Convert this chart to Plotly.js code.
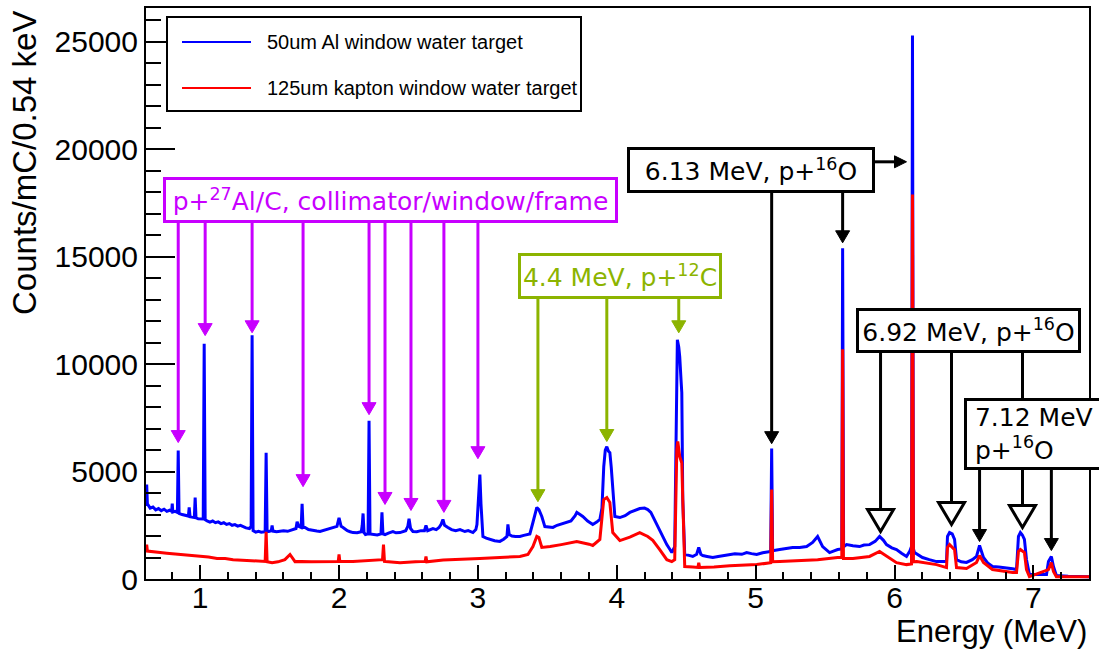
<!DOCTYPE html>
<html><head><meta charset="utf-8">
<script src="https://cdn.plot.ly/plotly-3.0.1.min.js"></script>
<style>html,body{margin:0;padding:0;background:#fff;}#chart{width:1099px;height:649px;}</style>
</head><body><div id="chart"></div>
<script>
// ---------- data ----------
const seriesNames = ["50um Al window water target", "125um kapton window water target"];

const blueE = [
0.612,0.615,0.620,0.64,0.66,0.68,0.70,0.72,0.74,0.76,
0.78,0.795,0.799,0.803,0.82,0.836,0.842,0.848,0.87,0.89,
0.905,0.915,0.921,0.927,0.94,0.958,0.964,0.970,0.986,1.022,
1.029,1.036,1.05,1.07,1.09,1.11,1.13,1.15,1.17,1.19,
1.21,1.23,1.25,1.27,1.29,1.31,1.33,1.355,1.367,1.374,
1.381,1.40,1.42,1.44,1.468,1.475,1.482,1.50,1.512,1.518,
1.524,1.55,1.576,1.60,1.63,1.669,1.69,1.698,1.71,1.727,
1.734,1.741,1.755,1.78,1.81,1.84,1.863,1.89,1.92,1.957,
1.985,2.0,2.015,2.029,2.06,2.08,2.101,2.13,2.16,2.167,
2.173,2.18,2.19,2.209,2.216,2.223,2.245,2.275,2.302,2.309,
2.316,2.331,2.36,2.388,2.41,2.439,2.48,2.495,2.504,2.515,
2.532,2.56,2.59,2.615,2.626,2.638,2.676,2.70,2.72,2.735,
2.748,2.76,2.784,2.81,2.84,2.871,2.906,2.93,2.964,2.985,
2.993,3.007,3.014,3.022,3.036,3.06,3.086,3.12,3.158,3.185,
3.209,3.216,3.225,3.245,3.27,3.302,3.33,3.36,3.374,3.396,
3.415,3.424,3.439,3.46,3.482,3.51,3.54,3.57,3.60,3.64,
3.67,3.70,3.712,3.735,3.755,3.79,3.827,3.855,3.878,3.893,
3.906,3.917,3.928,3.940,3.950,3.960,3.971,3.986,4.022,4.06,
4.094,4.13,4.165,4.20,4.223,4.245,4.259,4.285,4.309,4.335,
4.360,4.385,4.396,4.417,4.428,4.436,4.446,4.453,4.463,4.468,
4.475,4.489,4.52,4.547,4.575,4.590,4.605,4.619,4.65,4.691,
4.73,4.77,4.813,4.85,4.90,4.935,4.97,5.007,5.05,5.09,
5.108,5.115,5.122,5.173,5.22,5.266,5.317,5.367,5.410,5.446,
5.482,5.532,5.56,5.590,5.620,5.626,5.633,5.655,5.70,5.748,
5.78,5.820,5.86,5.892,5.92,5.942,5.98,6.014,6.05,6.086,
6.11,6.122,6.129,6.136,6.144,6.201,6.25,6.302,6.374,6.381,
6.396,6.415,6.432,6.446,6.48,6.518,6.56,6.590,6.612,6.640,
6.67,6.705,6.75,6.806,6.85,6.878,6.892,6.906,6.92,6.935,
6.950,6.971,7.03,7.094,7.108,7.129,7.144,7.165,7.25,7.40
];
const blueCounts = [
3400,4400,3500,3300,3350,3220,3280,3180,3250,3150,
3200,3150,3510,3120,3150,3100,5980,3050,3000,2980,
2950,2930,3330,2900,2880,2860,3790,2850,2800,2790,
10950,2760,2700,2650,2700,2620,2660,2580,2620,2540,
2580,2500,2530,2460,2500,2420,2380,2350,2450,11350,
2250,2180,2220,2180,2200,5880,2200,2220,2250,2490,
2230,2200,2210,2250,2220,2300,2350,2670,2450,2400,
3500,2400,2400,2300,2250,2230,2210,2260,2300,2400,
2450,2850,2450,2400,2250,2200,2160,2150,2200,2500,
3050,2150,2070,2100,7370,2100,2070,2050,2100,3100,
2100,2070,2150,2210,2150,2160,2250,2450,2810,2350,
2210,2200,2250,2250,2490,2250,2350,2300,2400,2550,
2770,2500,2400,2300,2250,2300,2210,2250,2160,2300,
2530,4000,4860,3500,1980,1900,1840,1780,1750,1850,
1980,2540,2070,2000,1980,1980,2030,2070,2100,2630,
3200,3330,3230,2910,2440,2420,2400,2500,2560,2670,
2700,2950,3100,3000,2910,2700,2540,2650,2770,3300,
5230,6000,6160,5950,5880,5200,4300,2910,2860,2950,
3100,3200,3280,3300,3230,3100,2910,2600,2300,1950,
1600,1350,1230,1510,8350,11140,10800,10350,9200,8670,
3700,1140,1100,1050,1150,1470,1150,1090,1050,1000,
1050,1100,1140,1180,1150,1230,1180,1140,1220,1280,
1280,6070,1320,1370,1420,1470,1470,1510,1700,1980,
1510,1230,1300,1370,1400,15400,1500,1600,1550,1510,
1580,1600,1750,1980,1800,1600,1450,1370,1200,1050,
1300,1510,25300,1400,1230,1000,900,810,810,1980,
2160,2100,1840,900,800,770,900,1050,1560,1000,
750,580,560,530,480,440,1980,2160,2050,1840,
900,210,200,210,810,1050,580,160,130,110
];

const redE = [
0.612,0.615,0.620,0.66,0.712,0.76,0.80,0.84,0.88,0.94,
1.0,1.06,1.122,1.18,1.237,1.30,1.38,1.43,1.468,1.475,
1.482,1.518,1.56,1.61,1.647,1.683,1.73,1.80,1.90,1.994,
2.0,2.006,2.10,2.20,2.295,2.313,2.32,2.327,2.335,2.439,
2.55,2.62,2.626,2.632,2.75,2.871,3.014,3.158,3.302,3.360,
3.396,3.424,3.439,3.46,3.52,3.60,3.712,3.80,3.827,3.878,
3.906,3.928,3.950,3.971,4.022,4.094,4.165,4.223,4.259,4.309,
4.360,4.396,4.417,4.432,4.439,4.453,4.468,4.475,4.489,4.547,
4.584,4.590,4.596,4.70,4.813,5.007,5.101,5.108,5.115,5.122,
5.173,5.30,5.446,5.590,5.620,5.626,5.632,5.70,5.820,5.892,
5.942,6.014,6.086,6.122,6.129,6.136,6.16,6.302,6.374,6.381,
6.396,6.432,6.446,6.518,6.590,6.612,6.640,6.705,6.85,6.878,
6.892,6.906,6.935,6.950,6.971,7.108,7.129,7.144,7.165,7.40
];
const redCounts = [
1300,1600,1300,1260,1230,1200,1180,1150,1130,1100,
1050,1020,960,950,900,880,860,810,820,2200,
800,760,800,900,1140,810,820,800,800,810,
1140,810,820,860,900,900,1600,820,810,760,
800,820,1050,800,880,900,950,1000,1050,1140,
1510,1980,1930,1470,1510,1600,1740,1620,1560,1840,
3700,3790,3560,2160,1790,1950,2160,1980,1800,1370,
900,810,900,6020,6400,5700,5400,3700,580,560,
540,760,540,560,620,670,760,760,4160,800,
810,850,900,1000,1000,10700,950,950,1050,1280,
1050,760,670,700,17900,800,810,670,530,1470,
1600,1370,530,490,770,1090,770,440,300,300,
1280,1370,1230,440,110,440,760,350,110,100
];

// annotation targets (energy in MeV, arrow tip in counts)
const alLabel = "p+<sup>27</sup>Al/C, collimator/window/frame";
const alArrowE   = [0.842, 1.036, 1.374, 1.741, 2.216, 2.331, 2.518, 2.755, 3.0];
const alArrowTip = [6350, 11330, 11460, 4300, 7650, 3470, 3190, 3100, 5600];
const cLabel = "4.4 MeV, p+<sup>12</sup>C";
const cArrowE   = [3.432, 3.928, 4.446];
const cArrowTip = [3600, 6400, 11460];
const o613Label = "6.13 MeV, p+<sup>16</sup>O";
const o613ArrowE   = [5.115, 5.626];
const o613ArrowTip = [6300, 15650];
const o613SideTip = [6.086, 19420];
const o692Label = "6.92 MeV, p+<sup>16</sup>O";
const o692ArrowE   = [5.899, 6.410, 6.921];
const o692ArrowTip = [2210, 2535, 2395];
const o712Label = "\u00a07.12 MeV<br>\u00a0p+<sup>16</sup>O";
const o712ArrowE   = [6.612, 7.129];
const o712ArrowTip = [1745, 1325];

// ---------- layout geometry ----------
const xRange = [0.61, 7.40];
const yMax = 26580;
const PL = 146, PR = 1089, PT = 8, PB = 579;
const W = PR - PL, H = PB - PT;
const px2paperX = p => (p - PL) / W;
const py2paperY = p => (PB - p) / H;
const py2val = p => (PB - p) / H * yMax;
const px2E = p => xRange[0] + (p - PL) / W * (xRange[1] - xRange[0]);
const cpp = yMax / H; // counts per pixel

const MAG = '#c800ff', GRN = '#8cb400', BLK = '#000000';
const AXFONT = 'Liberation Sans, Arial, sans-serif';
const BOXFONT = 'DejaVu Sans, sans-serif';

const shapes = [];
const annotations = [];

function filledArrow(E, tailVal, tipVal, color) {
  shapes.push({type:'line', xref:'x', yref:'y', x0:E, x1:E, y0:tailVal, y1:tipVal + 6*cpp,
    line:{color:color, width:3}, layer:'above'});
  shapes.push({type:'path', xref:'x', yref:'y', xsizemode:'pixel', ysizemode:'pixel',
    xanchor:E, yanchor:tipVal, path:'M0,0 L-7,12 L7,12 Z',
    fillcolor:color, line:{color:color, width:1}, layer:'above'});
}
function openArrow(E, tailVal, tipVal, color) {
  shapes.push({type:'line', xref:'x', yref:'y', x0:E, x1:E, y0:tailVal, y1:tipVal + 22*cpp,
    line:{color:color, width:3}, layer:'above'});
  shapes.push({type:'path', xref:'x', yref:'y', xsizemode:'pixel', ysizemode:'pixel',
    xanchor:E, yanchor:tipVal, path:'M0,0 L-13,22 L13,22 Z',
    fillcolor:'rgba(255,255,255,0)', line:{color:color, width:3}, layer:'above'});
}
function box(text, left, top, right, bottom, color, align, pad) {
  const bw = 3, bp = pad || 0;
  annotations.push({text:text, xref:'paper', yref:'paper',
    x: px2paperX(align === 'left' ? left : (left + right) / 2),
    y: py2paperY((top + bottom) / 2),
    xanchor: align === 'left' ? 'left' : 'center', yanchor:'middle', align: align || 'center',
    width: right - left - 2*bw - 2*bp, height: bottom - top - 2*bw - 2*bp,
    showarrow:false, bgcolor:'#ffffff', bordercolor:color, borderwidth:bw, borderpad:bp,
    font:{family:BOXFONT, size:25, color:color}});
}

// Al / collimator group
alArrowE.forEach((E, i) => filledArrow(E, py2val(223), alArrowTip[i], MAG));
// 12C group
cArrowE.forEach((E, i) => filledArrow(E, py2val(299), cArrowTip[i], GRN));
// 6.13 group
o613ArrowE.forEach((E, i) => filledArrow(E, py2val(193), o613ArrowTip[i], BLK));
shapes.push({type:'line', xref:'x', yref:'y', x0:px2E(875), x1:o613SideTip[0] - 6*(xRange[1]-xRange[0])/W,
  y0:o613SideTip[1], y1:o613SideTip[1], line:{color:BLK, width:3}, layer:'above'});
shapes.push({type:'path', xref:'x', yref:'y', xsizemode:'pixel', ysizemode:'pixel',
  xanchor:o613SideTip[0], yanchor:o613SideTip[1], path:'M0,0 L-12,6 L-12,-6 Z',
  fillcolor:BLK, line:{color:BLK, width:1}, layer:'above'});
// 6.92 group (open heads)
o692ArrowE.forEach((E, i) => openArrow(E, py2val(353), o692ArrowTip[i], BLK));
// 7.12 group
o712ArrowE.forEach((E, i) => filledArrow(E, py2val(470), o712ArrowTip[i], BLK));

// legend (drawn by hand to match the boxed ROOT legend)
shapes.push({type:'rect', xref:'paper', yref:'paper', x0:px2paperX(167), x1:px2paperX(581),
  y0:py2paperY(111), y1:py2paperY(17), fillcolor:'#ffffff', line:{color:'#000', width:2}, layer:'above'});
shapes.push({type:'line', xref:'paper', yref:'paper', x0:px2paperX(182), x1:px2paperX(251),
  y0:py2paperY(42), y1:py2paperY(42), line:{color:'#0000ff', width:2}, layer:'above'});
shapes.push({type:'line', xref:'paper', yref:'paper', x0:px2paperX(182), x1:px2paperX(251),
  y0:py2paperY(88), y1:py2paperY(88), line:{color:'#ff0000', width:2}, layer:'above'});
annotations.push({text:seriesNames[0], xref:'paper', yref:'paper', x:px2paperX(265), y:py2paperY(42),
  xanchor:'left', yanchor:'middle', showarrow:false, font:{family:AXFONT, size:20, color:'#000'}});
annotations.push({text:seriesNames[1], xref:'paper', yref:'paper', x:px2paperX(265), y:py2paperY(88),
  xanchor:'left', yanchor:'middle', showarrow:false, font:{family:AXFONT, size:20, color:'#000'}});

// label boxes
box(alLabel, 163, 177, 618, 223, MAG);
box(cLabel, 518, 253, 722, 299, GRN);
box(o613Label, 627, 147, 875, 193, BLK);
box(o692Label, 856, 308, 1081, 353, BLK);
box(o712Label, 964, 398, 1118, 470, BLK, 'left');

// axis titles
annotations.push({text:'Counts/mC/0.54 keV', xref:'paper', yref:'paper', x:px2paperX(24), y:py2paperY(9),
  xanchor:'center', yanchor:'top', textangle:-90, showarrow:false, font:{family:AXFONT, size:33, color:'#000'}});
annotations.push({text:'Energy (MeV)', xref:'paper', yref:'paper', x:px2paperX(1089), y:py2paperY(631),
  xanchor:'right', yanchor:'middle', showarrow:false, font:{family:AXFONT, size:31, color:'#000'}});

const traces = [
  {x:blueE, y:blueCounts, type:'scatter', mode:'lines', name:seriesNames[0], line:{color:'#0000ff', width:3}},
  {x:redE, y:redCounts, type:'scatter', mode:'lines', name:seriesNames[1], line:{color:'#ff0000', width:3}}
];

const layout = {
  width:1099, height:649,
  margin:{l:PL, r:1099-PR, t:PT, b:649-PB},
  paper_bgcolor:'#fff', plot_bgcolor:'#fff',
  showlegend:false,
  xaxis:{range:xRange, dtick:1, tick0:0, ticks:'inside', ticklen:14, tickwidth:2, tickcolor:'#000',
    ticklabelstandoff:-9,
    showline:true, linewidth:2, linecolor:'#000', mirror:true, showgrid:false, zeroline:false,
    tickfont:{family:AXFONT, size:30, color:'#000'},
    minor:{dtick:0.2, tick0:0, ticks:'inside', ticklen:7, tickwidth:2, tickcolor:'#000', showgrid:false}},
  yaxis:{range:[0, yMax], dtick:5000, tick0:0, ticks:'inside', ticklen:29, tickwidth:2, tickcolor:'#000',
    tickformat:'d', showline:true, linewidth:2, linecolor:'#000', mirror:true, showgrid:false, zeroline:false,
    tickfont:{family:AXFONT, size:30, color:'#000'},
    minor:{dtick:1000, tick0:0, ticks:'inside', ticklen:15, tickwidth:2, tickcolor:'#000', showgrid:false}},
  shapes:shapes,
  annotations:annotations
};

Plotly.newPlot('chart', traces, layout, {staticPlot:true, displayModeBar:false});
</script>
</body></html>
